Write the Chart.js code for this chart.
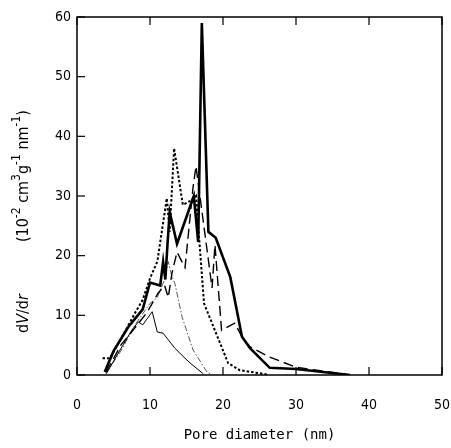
<!DOCTYPE html>
<html>
<head>
<meta charset="utf-8">
<script src="https://cdn.jsdelivr.net/npm/chart.js@4"></script>
<style>
  html, body { margin: 0; padding: 0; background: #fff; }
  #wrap { width: 451px; height: 448px; }
</style>
</head>
<body>
<div id="wrap"><canvas id="psd-chart"></canvas></div>
<script>
// pore size distributions (x = nm, y = 10^-2 cm3 g-1 nm-1)
const thickX = [3.8, 5, 7, 9, 10, 11.4, 11.8, 12.1, 12.4, 12.7, 13.7, 16, 16.6, 17.1, 18, 19, 21, 22.6, 23.7, 26.4, 30, 37.4];
const thickY = [0.5, 4, 8, 11, 15.5, 15, 19, 16, 22, 27.3, 22, 30, 22.3, 59, 24, 23, 16.4, 6.4, 4.5, 1.2, 1.0, 0];

const dashX = [4, 6, 8, 9.6, 11.1, 12, 12.5, 13, 13.7, 14.8, 15.9, 16.3, 18.5, 18.9, 19.8, 21.6, 22.6, 23.7, 26.4, 30, 37];
const dashY = [0.5, 5, 8, 10.5, 13.7, 15, 13, 17, 20.6, 18, 31.5, 35, 14.6, 21.8, 7.5, 8.7, 6.4, 4.7, 3.0, 1.3, 0.1];

const dotX = [3.5, 4.5, 6, 8, 9, 10, 11, 12.3, 12.7, 13.3, 14.5, 15.7, 16.3, 17.4, 20.7, 22.3, 26];
const dotY = [2.8, 2.8, 6, 10.5, 12.6, 16.2, 19, 29.6, 24, 38, 28.5, 29.3, 30, 12, 2, 0.8, 0.1];

const thinX = [4, 5.9, 7.5, 8.4, 9.0, 10.3, 11, 11.8, 13.4, 14.8, 15.5, 17.3];
const thinY = [0.2, 4.2, 7.5, 8.9, 8.4, 10.6, 7.2, 7, 4.5, 2.8, 2.0, 0.2];

const dashDotX = [4, 6, 8, 10, 11, 12, 12.5, 13, 13.4, 14.4, 15.9, 17.8, 18.5];
const dashDotY = [0.3, 4, 8.5, 12, 13, 16, 19, 16.5, 15.4, 9.7, 4.2, 0.5, 0];

const xTicks = [0, 10, 20, 30, 40, 50];
const yTicks = [0, 10, 20, 30, 40, 50, 60];

function pts(xs, ys) {
    return xs.map((x, i) => ({ x: x, y: ys[i] }));
}

// inward ticks and the closed frame, as in the printed figure
const framePlugin = {
    id: 'frame',
    afterDatasetsDraw(chart) {
        const { ctx, chartArea: a, scales } = chart;
        ctx.save();
        ctx.strokeStyle = '#000';
        ctx.lineWidth = 1.5;
        ctx.strokeRect(a.left, a.top, a.right - a.left, a.bottom - a.top);
        ctx.lineWidth = 1.2;
        xTicks.forEach(v => {
            const px = scales.x.getPixelForValue(v);
            ctx.beginPath();
            ctx.moveTo(px, a.bottom); ctx.lineTo(px, a.bottom - 8);
            ctx.moveTo(px, a.top); ctx.lineTo(px, a.top + 8);
            ctx.stroke();
        });
        yTicks.forEach(v => {
            const py = scales.y.getPixelForValue(v);
            ctx.beginPath();
            ctx.moveTo(a.left, py); ctx.lineTo(a.left + 8, py);
            ctx.stroke();
        });
        ctx.restore();
    }
};

// y title with italic V and r and real superscripts
const yTitlePlugin = {
    id: 'yTitle',
    afterDraw(chart) {
        const ctx = chart.ctx;
        const fam = '"DejaVu Sans Condensed"';
        const parts = [
            ['d', ''], ['V', 'i'], ['/d', ''], ['r', 'i'], [null, 52],
            ['(10', ''], ['-2', 's'], [' cm', ''], ['3', 's'], ['g', ''], ['-1', 's'],
            [' nm', ''], ['-1', 's'], [')', '']
        ];
        ctx.save();
        ctx.translate(28, 333);
        ctx.rotate(-Math.PI / 2);
        ctx.fillStyle = '#000';
        ctx.textBaseline = 'alphabetic';
        let x = 0;
        parts.forEach(([t, k]) => {
            if (t === null) { x += k; return; }
            const size = k === 's' ? 12 : 16;
            ctx.font = (k === 'i' ? 'italic ' : '') + size + 'px ' + fam;
            ctx.fillText(t, x, k === 's' ? -8 : 0);
            x += ctx.measureText(t).width;
        });
        ctx.restore();
    }
};

const tickFont = { family: 'DejaVu Sans Condensed', size: 14 };

new Chart(document.getElementById('psd-chart'), {
    type: 'scatter',
    data: {
        datasets: [
            { data: pts(thickX, thickY), borderWidth: 2.6, borderDash: [] },
            { data: pts(dashX, dashY), borderWidth: 1.4, borderDash: [10, 5] },
            { data: pts(dotX, dotY), borderWidth: 2, borderDash: [2.5, 2] },
            { data: pts(thinX, thinY), borderWidth: 1, borderDash: [] },
            { data: pts(dashDotX, dashDotY), borderWidth: 0.9, borderDash: [6, 2, 1.5, 2], borderColor: '#444' }
        ].map(d => Object.assign({
            showLine: true,
            borderColor: '#000',
            pointRadius: 0,
            tension: 0,
            fill: false
        }, d))
    },
    options: {
        responsive: true,
        maintainAspectRatio: false,
        animation: false,
        layout: { padding: { top: 17, right: 9, left: 0 } },
        plugins: {
            legend: { display: false },
            tooltip: { enabled: false }
        },
        scales: {
            x: {
                type: 'linear',
                min: 0,
                max: 50,
                afterFit: s => { s.height = 73; s.paddingLeft = 0; s.paddingRight = 0; },
                afterBuildTicks: s => { s.ticks = xTicks.map(v => ({ value: v })); },
                grid: { display: false, drawTicks: false },
                border: { display: false },
                ticks: { color: '#000', font: tickFont, padding: 22, maxRotation: 0 },
                title: {
                    display: true,
                    text: 'Pore diameter (nm)',
                    color: '#000',
                    font: { family: 'DejaVu Sans Mono', size: 14 },
                    padding: { top: 4 }
                }
            },
            y: {
                min: 0,
                max: 60,
                afterFit: s => { s.width = 77; },
                afterBuildTicks: s => { s.ticks = yTicks.map(v => ({ value: v })); },
                grid: { display: false, drawTicks: false },
                border: { display: false },
                ticks: { color: '#000', font: tickFont, padding: 6 }
            }
        }
    },
    plugins: [framePlugin, yTitlePlugin]
});
</script>
</body>
</html>
